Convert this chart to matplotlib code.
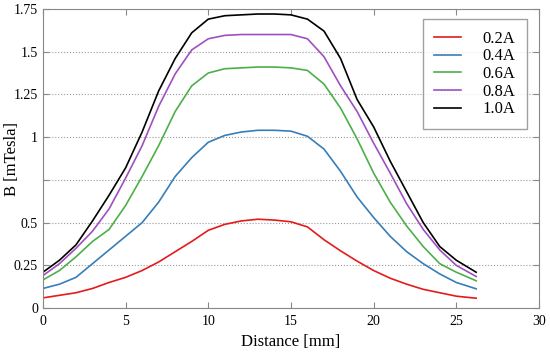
import numpy as np
import matplotlib
matplotlib.use('Agg')
import matplotlib.pyplot as plt

plt.rcParams['font.family'] = ['Liberation Serif', 'DejaVu Serif']

# Distance [mm]
x = [0, 1, 2, 3, 4, 5, 6, 7, 8, 9, 10, 11, 12, 13, 14, 15, 16, 17, 18, 19, 20, 21, 22, 23, 24, 25, 26.2]

# B [mTesla] for each current
b_02 = [0.06, 0.075, 0.09, 0.115, 0.15, 0.18, 0.22, 0.27, 0.33, 0.39, 0.455, 0.49, 0.51, 0.52, 0.515,
        0.505, 0.475, 0.40, 0.335, 0.275, 0.22, 0.175, 0.14, 0.11, 0.09, 0.07, 0.058]
b_04 = [0.115, 0.14, 0.18, 0.26, 0.34, 0.42, 0.50, 0.62, 0.77, 0.88, 0.97, 1.01, 1.03, 1.04, 1.04,
        1.035, 1.005, 0.93, 0.80, 0.65, 0.53, 0.42, 0.33, 0.26, 0.20, 0.15, 0.113]
b_06 = [0.165, 0.22, 0.30, 0.39, 0.46, 0.60, 0.77, 0.95, 1.15, 1.30, 1.375, 1.40, 1.405, 1.41, 1.41,
        1.405, 1.39, 1.31, 1.17, 0.99, 0.79, 0.62, 0.48, 0.36, 0.26, 0.21, 0.16]
b_08 = [0.19, 0.26, 0.35, 0.45, 0.58, 0.76, 0.95, 1.18, 1.37, 1.51, 1.575, 1.595, 1.60, 1.60, 1.60,
        1.60, 1.575, 1.47, 1.30, 1.15, 0.965, 0.79, 0.61, 0.46, 0.34, 0.25, 0.185]
b_10 = [0.21, 0.28, 0.37, 0.51, 0.66, 0.82, 1.03, 1.27, 1.46, 1.61, 1.69, 1.71, 1.715, 1.72, 1.72,
        1.715, 1.69, 1.62, 1.46, 1.22, 1.06, 0.86, 0.68, 0.50, 0.36, 0.28, 0.21]

labels = ['0.2A', '0.4A', '0.6A', '0.8A', '1.0A']
colors = ['#e41a1c', '#377eb8', '#4daf4a', '#a04fc0', '#000000']

yticks = [0, 0.25, 0.5, 0.75, 1, 1.25, 1.5, 1.75]
ytick_labels = ['0', '0.25', '0.5', '', '1', '1.25', '1.5', '1.75']

fig = plt.figure(figsize=(5.5, 3.55), dpi=100)
ax = fig.add_axes([0.078, 0.132, 0.902, 0.843])

for b, lab, c in zip([b_02, b_04, b_06, b_08, b_10], labels, colors):
    ax.plot(x, b, color=c, lw=1.2, label=lab)

ax.set_xlim(0, 30)
ax.set_ylim(0, 1.75)
ax.set_xticks([0, 5, 10, 15, 20, 25, 30])
ax.set_yticks(yticks)
ax.set_yticklabels(ytick_labels)
ax.yaxis.grid(True, linestyle=':', color='#999999', lw=0.8)
ax.tick_params(direction='in', top=True, right=True, length=4, color='#888888', labelsize=10)
ax.tick_params(axis='x', pad=5)
for s in ax.spines.values():
    s.set_color('#888888')

ax.set_xlabel('Distance [mm]', fontsize=12, labelpad=4)
ax.set_ylabel('B [mTesla]', fontsize=12)
ax.yaxis.set_label_coords(-0.046, 0.5)

leg = ax.legend(loc='upper right', bbox_to_anchor=(0.976, 0.966), fontsize=12, fancybox=False,
                handlelength=1.6, handletextpad=1.3, borderpad=0.7, labelspacing=0.1,
                borderaxespad=0)
leg.get_frame().set_edgecolor('#888888')
leg.get_frame().set_linewidth(1.0)

plt.savefig('out.png')
